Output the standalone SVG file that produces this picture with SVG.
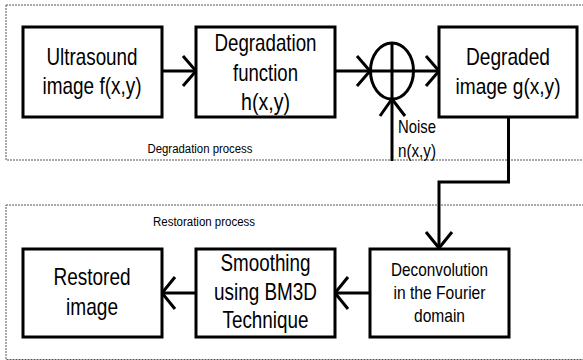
<svg xmlns="http://www.w3.org/2000/svg" width="583" height="360" viewBox="0 0 583 360">
<style>
.box{fill:#fff;stroke:#000;stroke-width:3}
.grp{fill:none;stroke:#555;stroke-width:1;stroke-dasharray:2 1}
.ln{fill:none;stroke:#000;stroke-width:3}
.hd{fill:none;stroke:#000;stroke-width:3;stroke-linejoin:miter}
text{font-family:"Liberation Sans",Arial,sans-serif;fill:#000;text-anchor:middle}
.big{font-size:24px}
.mid{font-size:18.5px}
.sm{font-size:12px}
</style>
<rect width="583" height="360" fill="#fff"/>
<g id="degradation-group">
<rect class="grp" x="6" y="5" width="590" height="155"/>
<text class="sm" x="200" y="153" textLength="105" lengthAdjust="spacingAndGlyphs">Degradation process</text>
</g>
<g id="restoration-group">
<rect class="grp" x="6" y="205" width="590" height="154.5"/>
<text class="sm" x="204" y="226" textLength="102" lengthAdjust="spacingAndGlyphs">Restoration process</text>
</g>
<g id="connectors">
<line class="ln" x1="162" y1="71" x2="195" y2="71"/>
<polyline class="hd" points="183,56 196,71 183,86"/>
<line class="ln" x1="335" y1="71" x2="369" y2="71"/>
<polyline class="hd" points="357,56 370,71 357,86"/>
<line class="ln" x1="413" y1="71" x2="438" y2="71"/>
<polyline class="hd" points="426,56 439,71 426,86"/>
<line class="ln" x1="392" y1="161" x2="392" y2="100"/>
<polyline class="hd" points="380,116 392,99 405,116"/>
<polyline class="ln" points="508.5,117 508.5,182 439,182 439,248"/>
<polyline class="hd" points="426,232 439,248 452,232"/>
<line class="ln" x1="370" y1="293" x2="336" y2="293"/>
<polyline class="hd" points="348,277 335,293 348,309"/>
<line class="ln" x1="196" y1="293" x2="163" y2="293"/>
<polyline class="hd" points="175,277 162,293 175,309"/>
</g>
<g id="sum">
<ellipse cx="392" cy="71" rx="21.5" ry="28" fill="none" stroke="#000" stroke-width="3"/>
<line class="ln" x1="392" y1="43" x2="392" y2="99"/>
<line class="ln" x1="370" y1="71" x2="413" y2="71"/>
</g>
<g id="noise-label">
<text class="mid" x="417" y="133" textLength="38" lengthAdjust="spacingAndGlyphs">Noise</text>
<text class="mid" x="417" y="157" textLength="38" lengthAdjust="spacingAndGlyphs">n(x,y)</text>
</g>
<g id="ultrasound">
<rect class="box" x="23" y="27" width="139" height="90"/>
<text class="big" x="92" y="65" textLength="91" lengthAdjust="spacingAndGlyphs">Ultrasound</text>
<text class="big" x="92" y="94" textLength="99" lengthAdjust="spacingAndGlyphs">image f(x,y)</text>
</g>
<g id="degradation-function">
<rect class="box" x="196" y="27" width="139" height="90"/>
<text class="big" x="265.5" y="51" textLength="102" lengthAdjust="spacingAndGlyphs">Degradation</text>
<text class="big" x="265.5" y="81" textLength="65" lengthAdjust="spacingAndGlyphs">function</text>
<text class="big" x="265.5" y="110" textLength="49" lengthAdjust="spacingAndGlyphs">h(x,y)</text>
</g>
<g id="degraded">
<rect class="box" x="439" y="27" width="138" height="90"/>
<text class="big" x="508" y="65" textLength="84" lengthAdjust="spacingAndGlyphs">Degraded</text>
<text class="big" x="508" y="94" style="font-size:22px" textLength="105" lengthAdjust="spacingAndGlyphs">image g(x,y)</text>
</g>
<g id="deconvolution">
<rect class="box" x="370" y="249" width="139" height="88"/>
<text class="mid" x="439.5" y="276" textLength="97" lengthAdjust="spacingAndGlyphs">Deconvolution</text>
<text class="mid" x="439.5" y="299" textLength="92" lengthAdjust="spacingAndGlyphs">in the Fourier</text>
<text class="mid" x="439.5" y="322" textLength="51" lengthAdjust="spacingAndGlyphs">domain</text>
</g>
<g id="smoothing">
<rect class="box" x="196" y="249" width="139" height="88"/>
<text class="big" x="265.5" y="271" textLength="90" lengthAdjust="spacingAndGlyphs">Smoothing</text>
<text class="big" x="265.5" y="300" textLength="103" lengthAdjust="spacingAndGlyphs">using BM3D</text>
<text class="big" x="265.5" y="328" textLength="86" lengthAdjust="spacingAndGlyphs">Technique</text>
</g>
<g id="restored">
<rect class="box" x="23" y="249" width="139" height="88"/>
<text class="big" x="92" y="285" textLength="77" lengthAdjust="spacingAndGlyphs">Restored</text>
<text class="big" x="92" y="315" textLength="52" lengthAdjust="spacingAndGlyphs">image</text>
</g>
</svg>
